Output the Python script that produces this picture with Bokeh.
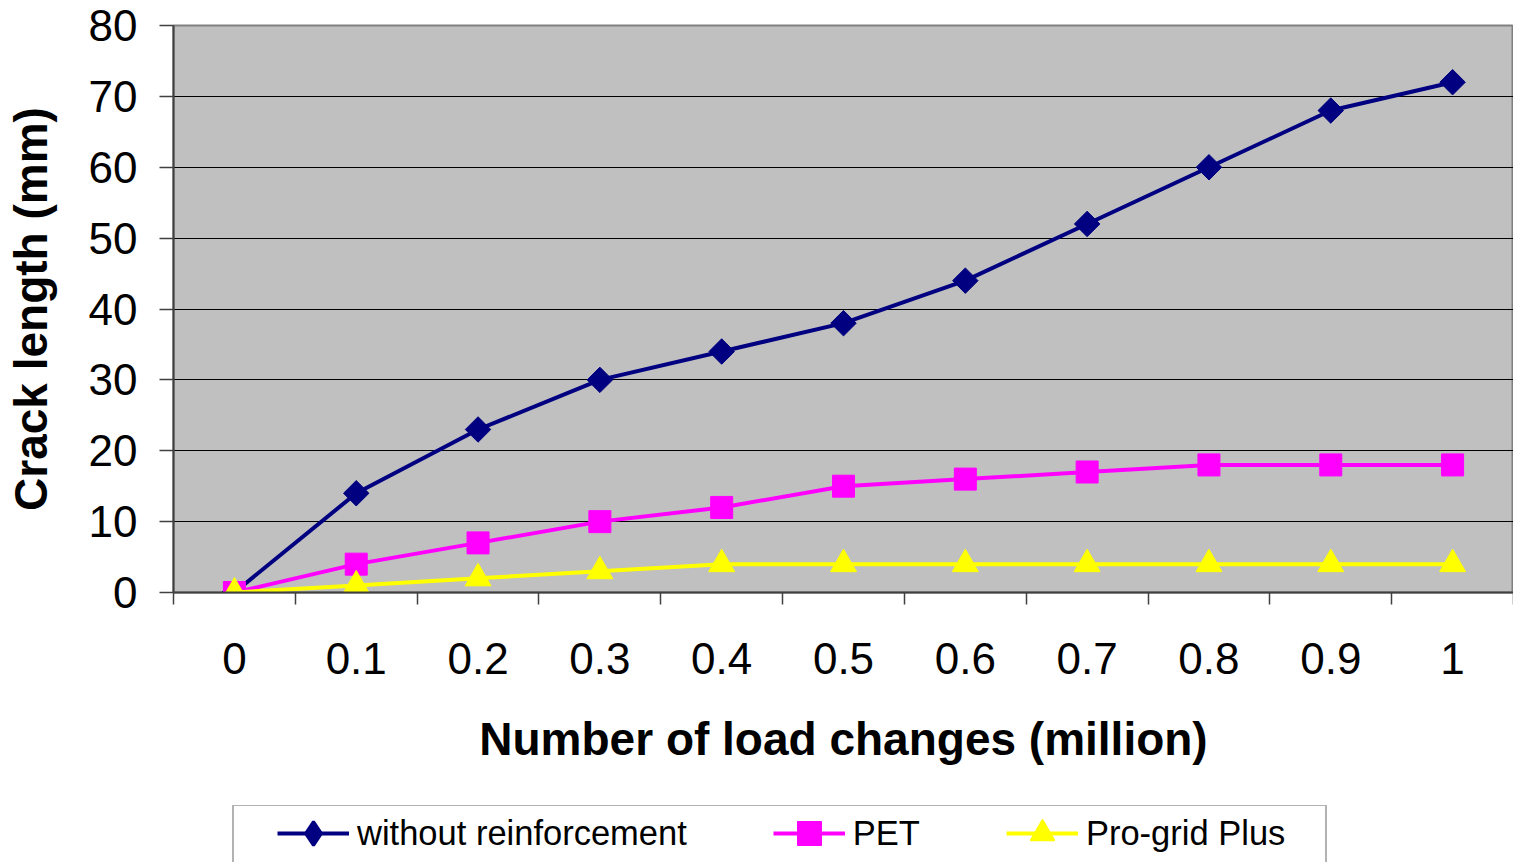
import math
from bokeh.plotting import figure
from bokeh.layouts import column
from bokeh.models import FixedTicker, Legend, LegendItem, Range1d
from bokeh.embed import file_html
from bokeh.resources import INLINE

# ---- data ----
categories = ["0", "0.1", "0.2", "0.3", "0.4", "0.5", "0.6", "0.7", "0.8", "0.9", "1"]
without_reinforcement = [0, 14, 23, 30, 34, 38, 44, 52, 60, 68, 72]
pet = [0, 4, 7, 10, 12, 15, 16, 17, 18, 18, 18]
progrid_plus = [0, 1, 2, 3, 4, 4, 4, 4, 4, 4, 4]
y_ticks = [0, 10, 20, 30, 40, 50, 60, 70, 80]
series_names = ["without reinforcement", "PET", "Pro-grid Plus"]

FONT = "Liberation Sans"
xs = list(range(len(categories)))
series = [without_reinforcement, pet, progrid_plus]
colors = ["#000080", "#FF00FF", "#FFFF00"]
markers = [dict(marker="square", size=18, angle=math.pi / 4),
           dict(marker="square", size=22),
           dict(marker="triangle", size=26)]
legend_markers = [dict(marker="diamond", line_width=3),
                  dict(marker="square"),
                  dict(marker="triangle", line_width=1.5)]
LW = 4

p = figure(width=1513, height=805, output_backend="svg", toolbar_location=None,
           x_range=Range1d(-0.5, len(categories) - 0.5), y_range=Range1d(y_ticks[0], y_ticks[-1]),
           min_border_left=173, min_border_right=0, min_border_top=25, min_border_bottom=213)
p.background_fill_color = "#C0C0C0"
p.border_fill_color = "white"
p.outline_line_color = "#808080"
p.outline_line_width = 2

# x axis (category style: labels at centres, ticks between)
xa = p.xaxis[0]
xa.ticker = FixedTicker(ticks=xs, minor_ticks=[i - 0.5 for i in range(len(categories) + 1)])
xa.major_label_overrides = {i: c for i, c in enumerate(categories)}
xa.major_tick_out = 0
xa.major_tick_in = 0
xa.minor_tick_out = 12
xa.minor_tick_in = 0
xa.minor_tick_line_color = "#404040"
xa.minor_tick_line_width = 1.5
xa.axis_line_color = "#404040"
xa.axis_line_width = 2
xa.major_label_text_font = FONT
xa.major_label_text_font_size = "44px"
xa.major_label_text_color = "black"
xa.major_label_standoff = 38
xa.axis_label = "Number of load changes (million)"
xa.axis_label_text_font = FONT
xa.axis_label_text_font_style = "bold"
xa.axis_label_text_font_size = "46px"
xa.axis_label_text_color = "black"
xa.axis_label_standoff = 36

ya = p.yaxis[0]
ya.ticker = FixedTicker(ticks=y_ticks)
ya.major_tick_out = 14
ya.major_tick_in = 0
ya.minor_tick_out = 0
ya.minor_tick_in = 0
ya.major_tick_line_color = "#404040"
ya.major_tick_line_width = 1.5
ya.axis_line_color = "#404040"
ya.axis_line_width = 2
ya.major_label_text_font = FONT
ya.major_label_text_font_size = "44px"
ya.major_label_text_color = "black"
ya.major_label_standoff = 22
ya.axis_label = "Crack length (mm)"
ya.axis_label_text_font = FONT
ya.axis_label_text_font_style = "bold"
ya.axis_label_text_font_size = "46px"
ya.axis_label_text_color = "black"
ya.axis_label_standoff = 29

p.xgrid.visible = False
p.ygrid.ticker = FixedTicker(ticks=y_ticks)
p.ygrid.grid_line_color = "black"
p.ygrid.grid_line_width = 1

# series
for vals, col, mk in zip(series, colors, markers):
    p.line(xs, vals, line_color=col, line_width=LW)
    p.scatter(xs, vals, fill_color=col, line_color=col, **mk)

# ---- legend strip (separate figure so the legend is not clipped by the plot area) ----
# its frame is aligned with the main plot frame (x from 173 px); ranges keep the
# legend's proxy renderers out of view so only the legend entries show.
p2 = figure(width=1513, height=57, output_backend="svg", toolbar_location=None,
            x_range=Range1d(100, 101), y_range=Range1d(100, 101), x_axis_type=None, y_axis_type=None,
            min_border_left=173, min_border_right=0, min_border_top=0, min_border_bottom=0)
p2.outline_line_color = None
p2.background_fill_color = "white"
p2.border_fill_color = "white"
p2.xgrid.visible = False
p2.ygrid.visible = False

dummy = p2.scatter(x=[0], y=[0], alpha=0)
box_legend = Legend(items=[LegendItem(label=" ", renderers=[dummy])], location=(59, -26),
                    orientation="horizontal", padding=0, margin=0, spacing=0,
                    glyph_width=1, glyph_height=80, label_width=1090, label_height=80,
                    label_standoff=0, border_line_color="#666666", border_line_width=2,
                    background_fill_color="white", background_fill_alpha=1)
p2.add_layout(box_legend)

items = []
for name, vals, col, mk in zip(series_names, series, colors, legend_markers):
    lr = p2.line(xs, vals, line_color=col, line_width=LW)
    sr = p2.scatter(xs, vals, fill_color=col, line_color=col, **mk)
    items.append(LegendItem(label=name, renderers=[lr, sr]))

legend = Legend(items=items, location=(104, -1), orientation="horizontal", padding=0, margin=0,
                spacing=86, glyph_width=72, glyph_height=60, label_height=60,
                label_standoff=8, label_text_font=FONT, label_text_font_size="34.5px",
                label_text_color="black", border_line_color=None,
                background_fill_alpha=0)
p2.add_layout(legend)

layout = column(p, p2, spacing=0)
open("out.html", "w").write(file_html(layout, INLINE))
